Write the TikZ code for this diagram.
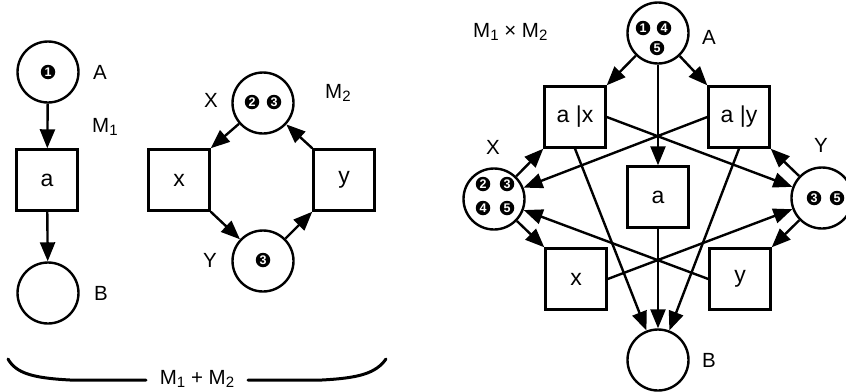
\documentclass[tikz,border=0pt]{standalone}
\usepackage{fontspec}
\setmainfont{Liberation Sans}
\usetikzlibrary{arrows.meta}
\newcommand\lowidx[1]{\raisebox{-0.3ex}{\fontsize{15}{15}\selectfont #1}}
\tikzset{
  lbl/.style={font=\fontsize{20.5}{20.5}\selectfont, inner sep=0pt},
  place/.style={circle, draw, line width=2.4pt, minimum size=61pt, inner sep=0pt},
  trans/.style={rectangle, draw, line width=2.4pt, minimum size=61pt, inner sep=0pt, font=\fontsize{23}{23}\selectfont},
  tok/.style={circle, fill=black, text=white, minimum size=14.5pt, inner sep=0pt, font=\fontsize{12.5}{12.5}\selectfont\bfseries},
  flow/.style={line width=2.4pt, -{Triangle[length=19pt,width=15pt]}},
  brace/.style={line width=3pt, line cap=round},
}
\begin{document}
\begin{tikzpicture}[x=1pt,y=-1pt]
\useasboundingbox (0,0) rectangle (846,391);

% ---------- M1 ----------
\node[place] (A1) at (48,72) {};
\node[tok] (A1t1) at (48,72) {1};
\node[trans] (a1) at (47,180) {a};
\node[place] (B1) at (48,293) {};
\node[lbl] (A1l) at (100,72) {A};
\node[lbl, anchor=base west] (M1l) at (92,132) {M\lowidx{1}};
\node[lbl] (B1l) at (101,293) {B};
\draw[flow] (A1) -- (a1);
\draw[flow] (a1) -- (B1);

% ---------- M2 ----------
\node[place] (X2) at (263,103) {};
\node[tok] (X2t2) at (252,102) {2};
\node[tok] (X2t3) at (274,102) {3};
\node[trans] (x2) at (179,180) {x};
\node[trans] (y2) at (344,180) {y};
\node[place] (Y2) at (263,261) {};
\node[tok] (Y2t3) at (263,260) {3};
\node[lbl] (X2l) at (211,100) {X};
\node[lbl, anchor=base west] (M2l) at (325,98) {M\lowidx{2}};
\node[lbl] (Y2l) at (210,260) {Y};
\draw[flow] (X2) -- (x2.north east);
\draw[flow] (x2.south east) -- (Y2);
\draw[flow] (Y2) -- (y2.south west);
\draw[flow] (y2.north west) -- (X2);

% ---------- M1 + M2 ----------
\node[lbl, anchor=base] (sum) at (197,384) {M\lowidx{1} + M\lowidx{2}};
\coordinate (bl) at (8,359);
\coordinate (blm) at (146,380);
\coordinate (brm) at (248,380);
\coordinate (br) at (386,359);
\draw[brace] (bl) .. controls (16,373) and (32,378) .. (70,380) -- (blm);
\draw[brace] (brm) -- (322,380) .. controls (360,378) and (376,373) .. (br);

% ---------- M1 x M2 ----------
\node[lbl, anchor=base west] (M3l) at (473,37) {M\lowidx{1} × M\lowidx{2}};
\node[place] (A3) at (658,33) {};
\node[tok] (A3t1) at (643,28) {1};
\node[tok] (A3t4) at (664,28) {4};
\node[tok] (A3t5) at (657,48) {5};
\node[lbl] (A3l) at (709,37) {A};

\node[trans] (ax) at (575,117) {a |x};
\node[trans] (ay) at (739,117) {a |y};
\node[trans] (a3) at (658,197) {a};

\node[place] (X3) at (494,199) {};
\node[tok] (X3t2) at (483,184) {2};
\node[tok] (X3t3) at (507,184) {3};
\node[tok] (X3t4) at (483,208) {4};
\node[tok] (X3t5) at (507,208) {5};
\node[lbl] (X3l) at (493,147) {X};

\node[place] (Y3) at (822,198) {};
\node[tok] (Y3t3) at (814,198) {3};
\node[tok] (Y3t5) at (837,198) {5};
\node[lbl] (Y3l) at (821,145) {Y};

\node[trans] (x3) at (576,279) {x};
\node[trans] (y3) at (740,279) {y};

\node[place] (B3) at (658,360) {};
\node[lbl] (B3l) at (709,360) {B};

\draw[flow] (A3) -- (ax.north east);
\draw[flow] (A3) -- (ay.north west);
\draw[flow] (A3) -- (a3);
\draw[flow] (X3) -- (ax.south west);
\draw[flow] (Y3) -- (ay.south east);
\draw[flow] (ax.east) -- (Y3);
\draw[flow] (ay.west) -- (X3);
\draw[flow] (ax.south) -- (B3);
\draw[flow] (ay.south) -- (B3);
\draw[flow] (a3) -- (B3);
\draw[flow] (X3) -- (x3.north west);
\draw[flow] (Y3) -- (y3.north east);
\draw[flow] (x3.east) -- (Y3);
\draw[flow] (y3.west) -- (X3);
\end{tikzpicture}
\end{document}
